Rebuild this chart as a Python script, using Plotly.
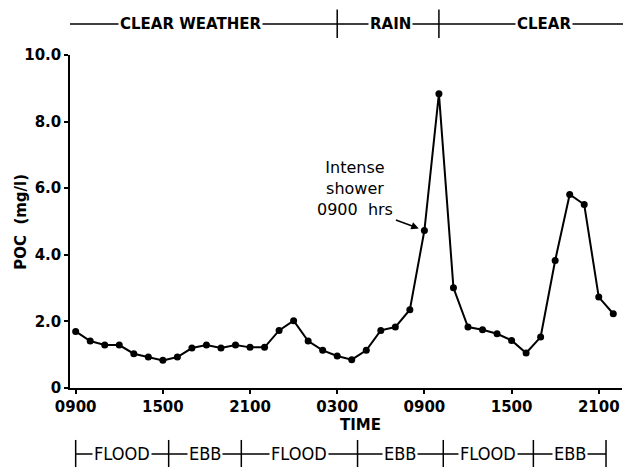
import plotly.graph_objects as go

# ---- data ----
hours = list(range(38))  # hourly samples starting 0900 day 1
poc = [1.70, 1.41, 1.29, 1.29, 1.03, 0.93, 0.83, 0.93, 1.20, 1.29,
       1.20, 1.29, 1.22, 1.22, 1.73, 2.02, 1.41, 1.13, 0.96, 0.85,
       1.13, 1.73, 1.83, 2.35, 4.73, 8.84, 3.01, 1.83, 1.75, 1.63,
       1.43, 1.05, 1.53, 3.83, 5.81, 5.51, 2.73, 2.23]

x_tick_vals = [0, 6, 12, 18, 24, 30, 36]
x_tick_text = ["0900", "1500", "2100", "0300", "0900", "1500", "2100"]
y_tick_vals = [0, 2, 4, 6, 8, 10]
y_tick_text = ["0", "2.0", "4.0", "6.0", "8.0", "10.0"]

weather_bounds = [18, 25]
weather_labels = ["CLEAR WEATHER", "RAIN", "CLEAR"]
weather_label_pos = [7.9, 21.7, 32.2]

tide_bounds = [0, 6.4, 11.4, 19.4, 25.3, 31.5, 36.5]
tide_labels = ["FLOOD", "EBB", "FLOOD", "EBB", "FLOOD", "EBB"]

note_hour = 24
note_value = poc[24]

FONT = "DejaVu Sans"

fig = go.Figure()
fig.add_trace(go.Scatter(
    x=hours, y=poc, mode="lines+markers",
    line=dict(color="black", width=2),
    marker=dict(color="black", size=7),
    showlegend=False, hoverinfo="skip", cliponaxis=False,
))

shapes = []
annotations = []

# top weather band
top_y = 1.093
shapes.append(dict(type="line", xref="paper", yref="paper", x0=0, x1=1.003,
                   y0=top_y, y1=top_y, line=dict(color="black", width=1.5)))
for b in weather_bounds:
    shapes.append(dict(type="line", xref="x", yref="paper", x0=b, x1=b,
                       y0=1.051, y1=1.137, line=dict(color="black", width=1.5)))
for lab, pos in zip(weather_labels, weather_label_pos):
    annotations.append(dict(x=pos, y=top_y, xref="x", yref="paper", text=lab,
                            showarrow=False, bgcolor="white", borderpad=1,
                            font=dict(family=FONT, size=15, color="black", weight="bold"),
                            xanchor="center", yanchor="middle"))

# bottom tide band
bot_y = -0.198
shapes.append(dict(type="line", xref="x", yref="paper", x0=tide_bounds[0], x1=tide_bounds[-1],
                   y0=bot_y, y1=bot_y, line=dict(color="black", width=1.5)))
for b in tide_bounds:
    shapes.append(dict(type="line", xref="x", yref="paper", x0=b, x1=b,
                       y0=-0.156, y1=-0.24, line=dict(color="black", width=1.5)))
for i, lab in enumerate(tide_labels):
    mid = (tide_bounds[i] + tide_bounds[i + 1]) / 2
    annotations.append(dict(x=mid, y=bot_y, xref="x", yref="paper", text=lab,
                            showarrow=False, bgcolor="white", borderpad=1,
                            font=dict(family="DejaVu Sans Condensed", size=18, color="black"),
                            xanchor="center", yanchor="middle"))

# axis titles
annotations.append(dict(x=19.6, y=-0.111, xref="x", yref="paper", text="TIME",
                        showarrow=False,
                        font=dict(family=FONT, size=15, color="black", weight="bold"),
                        xanchor="center", yanchor="middle"))
annotations.append(dict(x=-0.09, y=0.5, xref="paper", yref="paper", text="POC  (mg/l)",
                        showarrow=False, textangle=-90,
                        font=dict(family=FONT, size=15, color="black", weight="bold"),
                        xanchor="center", yanchor="middle"))

# shower note
annotations.append(dict(x=19.2, y=6.0, xref="x", yref="y",
                        text="Intense<br>shower<br>0900  hrs",
                        showarrow=False,
                        font=dict(family=FONT, size=16, color="black"),
                        xanchor="center", yanchor="middle"))
annotations.append(dict(x=note_hour, y=note_value, xref="x", yref="y", text="",
                        showarrow=True, ax=-30, ay=-11, axref="pixel", ayref="pixel",
                        arrowhead=2, arrowsize=1, arrowwidth=1.5, arrowcolor="black",
                        standoff=6))

fig.update_layout(
    width=623, height=467, autosize=False,
    margin=dict(l=70, r=1, t=55, b=79),
    paper_bgcolor="white", plot_bgcolor="white",
    shapes=shapes, annotations=annotations,
    xaxis=dict(range=[-0.39, 37.6], tickvals=x_tick_vals, ticktext=x_tick_text,
               showline=True, linecolor="black", linewidth=1.5,
               ticks="outside", ticklen=4, tickcolor="black", tickwidth=1.5,
               showgrid=False, zeroline=False,
               tickfont=dict(family=FONT, size=15, color="black", weight="bold")),
    yaxis=dict(range=[0, 10], tickvals=y_tick_vals, ticktext=y_tick_text,
               showline=True, linecolor="black", linewidth=1.5,
               ticks="outside", ticklen=4, tickcolor="black", tickwidth=1.5,
               showgrid=False, zeroline=False,
               tickfont=dict(family=FONT, size=15, color="black", weight="bold")),
)

# remove the browser's default page margin so the figure fills the window exactly
fig.write_html("out.html",
               config={"displayModeBar": False},
               post_script="document.body.style.margin='0';document.body.style.overflow='hidden';")
